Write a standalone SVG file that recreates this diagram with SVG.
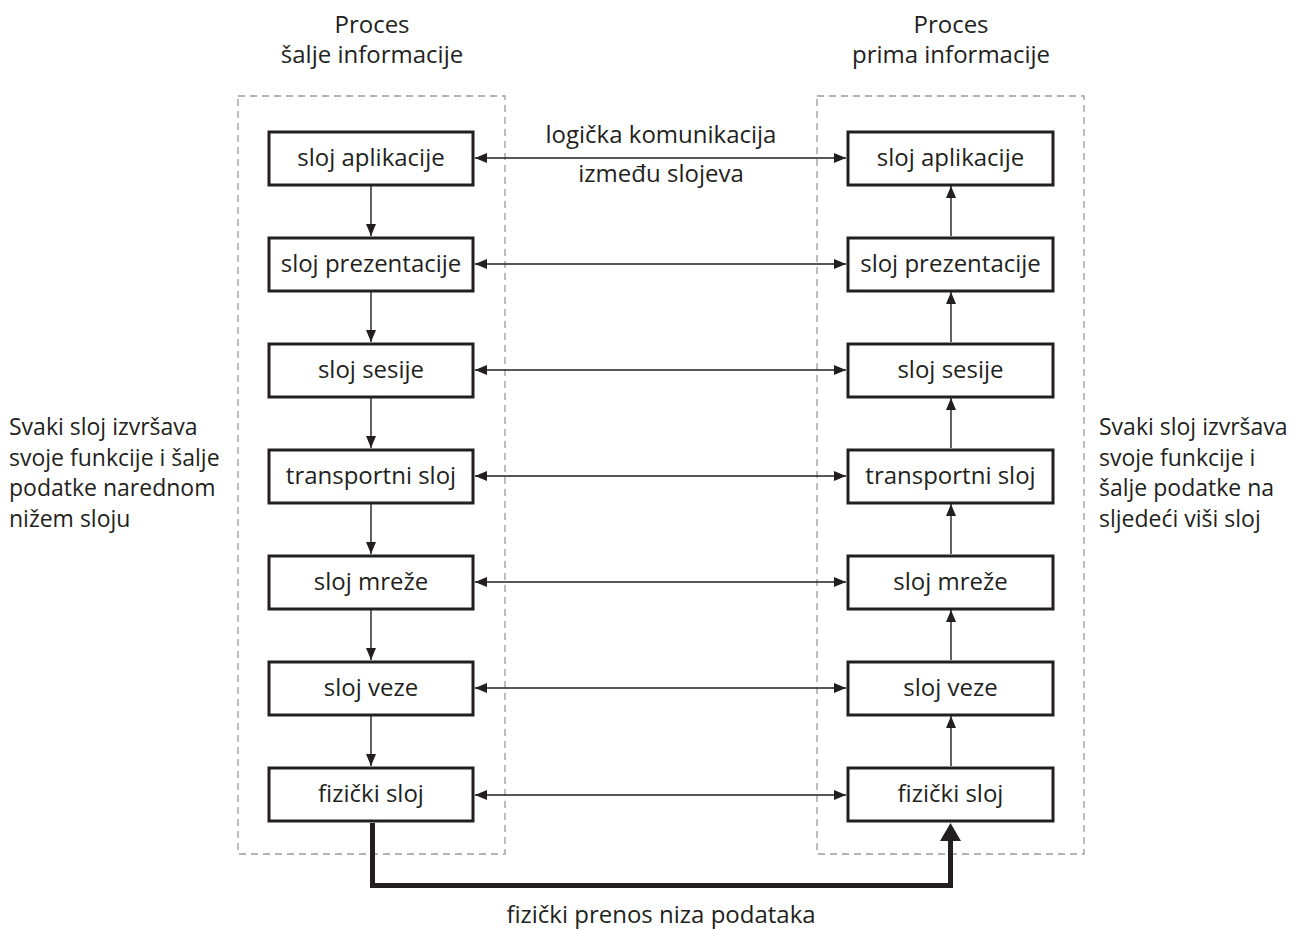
<svg xmlns="http://www.w3.org/2000/svg" width="1299" height="929" viewBox="0 0 1299 929">
<style>
text{font-family:"Open Sans","Noto Sans","DejaVu Sans",sans-serif;font-size:24px;fill:#231f20}
.c{text-anchor:middle}
.side{font-size:23px}
.box{fill:#fff;stroke:#231f20;stroke-width:3}
.dash{fill:none;stroke:#9a9a9a;stroke-width:1.3;stroke-dasharray:7 5}
.ln{fill:none;stroke:#231f20;stroke-width:1.4}
.thick{fill:none;stroke:#231f20;stroke-width:5}
</style>
<defs>
<marker id="ah" viewBox="0 0 12 10" refX="12" refY="5" markerWidth="12" markerHeight="10" markerUnits="userSpaceOnUse" orient="auto-start-reverse">
<path d="M0,0 L12,5 L0,10 Z" fill="#231f20"/>
</marker>
</defs>
<g id="containers">
<rect class="dash" x="238" y="96" width="267" height="758"/>
<rect class="dash" x="817" y="96" width="267" height="758"/>
</g>
<g id="headers">
<text class="c" x="372" y="33">Proces</text>
<text class="c" x="372" y="63">šalje informacije</text>
<text class="c" x="951" y="33">Proces</text>
<text class="c" x="951" y="63">prima informacije</text>
</g>
<g id="side-labels">
<text class="side" x="9" y="435">Svaki sloj izvršava</text>
<text class="side" x="9" y="466">svoje funkcije i šalje</text>
<text class="side" x="9" y="496">podatke narednom</text>
<text class="side" x="9" y="527">nižem sloju</text>
<text class="side" x="1099" y="435">Svaki sloj izvršava</text>
<text class="side" x="1099" y="466">svoje funkcije i</text>
<text class="side" x="1099" y="496">šalje podatke na</text>
<text class="side" x="1099" y="527">sljedeći viši sloj</text>
</g>
<g id="connectors">
<path class="ln" d="M371,186 V236" marker-end="url(#ah)"/>
<path class="ln" d="M371,292 V342" marker-end="url(#ah)"/>
<path class="ln" d="M371,398 V448" marker-end="url(#ah)"/>
<path class="ln" d="M371,504 V554" marker-end="url(#ah)"/>
<path class="ln" d="M371,610 V660" marker-end="url(#ah)"/>
<path class="ln" d="M371,716 V766" marker-end="url(#ah)"/>
<path class="ln" d="M951,236 V186" marker-end="url(#ah)"/>
<path class="ln" d="M951,342 V292" marker-end="url(#ah)"/>
<path class="ln" d="M951,448 V398" marker-end="url(#ah)"/>
<path class="ln" d="M951,554 V504" marker-end="url(#ah)"/>
<path class="ln" d="M951,660 V610" marker-end="url(#ah)"/>
<path class="ln" d="M951,766 V716" marker-end="url(#ah)"/>
<path class="ln" d="M475,158 H846" marker-start="url(#ah)" marker-end="url(#ah)"/>
<path class="ln" d="M475,264 H846" marker-start="url(#ah)" marker-end="url(#ah)"/>
<path class="ln" d="M475,370 H846" marker-start="url(#ah)" marker-end="url(#ah)"/>
<path class="ln" d="M475,476 H846" marker-start="url(#ah)" marker-end="url(#ah)"/>
<path class="ln" d="M475,582 H846" marker-start="url(#ah)" marker-end="url(#ah)"/>
<path class="ln" d="M475,688 H846" marker-start="url(#ah)" marker-end="url(#ah)"/>
<path class="ln" d="M475,795 H846" marker-start="url(#ah)" marker-end="url(#ah)"/>
<path class="thick" d="M372.5,823 V885.5 H950.5 V840"/>
<path d="M940,841 L950.5,823 L961,841 Z" fill="#231f20"/>
</g>
<g id="edge-labels">
<text class="c" x="661" y="143">logička komunikacija</text>
<text class="c" x="661" y="182">između slojeva</text>
<text class="c" x="661" y="923">fizički prenos niza podataka</text>
</g>
<g id="left-stack">
<g id="l1"><rect class="box" x="269" y="132" width="204" height="53"/><text class="c" x="371" y="166">sloj aplikacije</text></g>
<g id="l2"><rect class="box" x="269" y="238" width="204" height="53"/><text class="c" x="371" y="272">sloj prezentacije</text></g>
<g id="l3"><rect class="box" x="269" y="344" width="204" height="53"/><text class="c" x="371" y="378">sloj sesije</text></g>
<g id="l4"><rect class="box" x="269" y="450" width="204" height="53"/><text class="c" x="371" y="484">transportni sloj</text></g>
<g id="l5"><rect class="box" x="269" y="556" width="204" height="53"/><text class="c" x="371" y="590">sloj mreže</text></g>
<g id="l6"><rect class="box" x="269" y="662" width="204" height="53"/><text class="c" x="371" y="696">sloj veze</text></g>
<g id="l7"><rect class="box" x="269" y="768" width="204" height="53"/><text class="c" x="371" y="802">fizički sloj</text></g>
</g>
<g id="right-stack">
<g id="r1"><rect class="box" x="848" y="132" width="205" height="53"/><text class="c" x="950.5" y="166">sloj aplikacije</text></g>
<g id="r2"><rect class="box" x="848" y="238" width="205" height="53"/><text class="c" x="950.5" y="272">sloj prezentacije</text></g>
<g id="r3"><rect class="box" x="848" y="344" width="205" height="53"/><text class="c" x="950.5" y="378">sloj sesije</text></g>
<g id="r4"><rect class="box" x="848" y="450" width="205" height="53"/><text class="c" x="950.5" y="484">transportni sloj</text></g>
<g id="r5"><rect class="box" x="848" y="556" width="205" height="53"/><text class="c" x="950.5" y="590">sloj mreže</text></g>
<g id="r6"><rect class="box" x="848" y="662" width="205" height="53"/><text class="c" x="950.5" y="696">sloj veze</text></g>
<g id="r7"><rect class="box" x="848" y="768" width="205" height="53"/><text class="c" x="950.5" y="802">fizički sloj</text></g>
</g>
</svg>
